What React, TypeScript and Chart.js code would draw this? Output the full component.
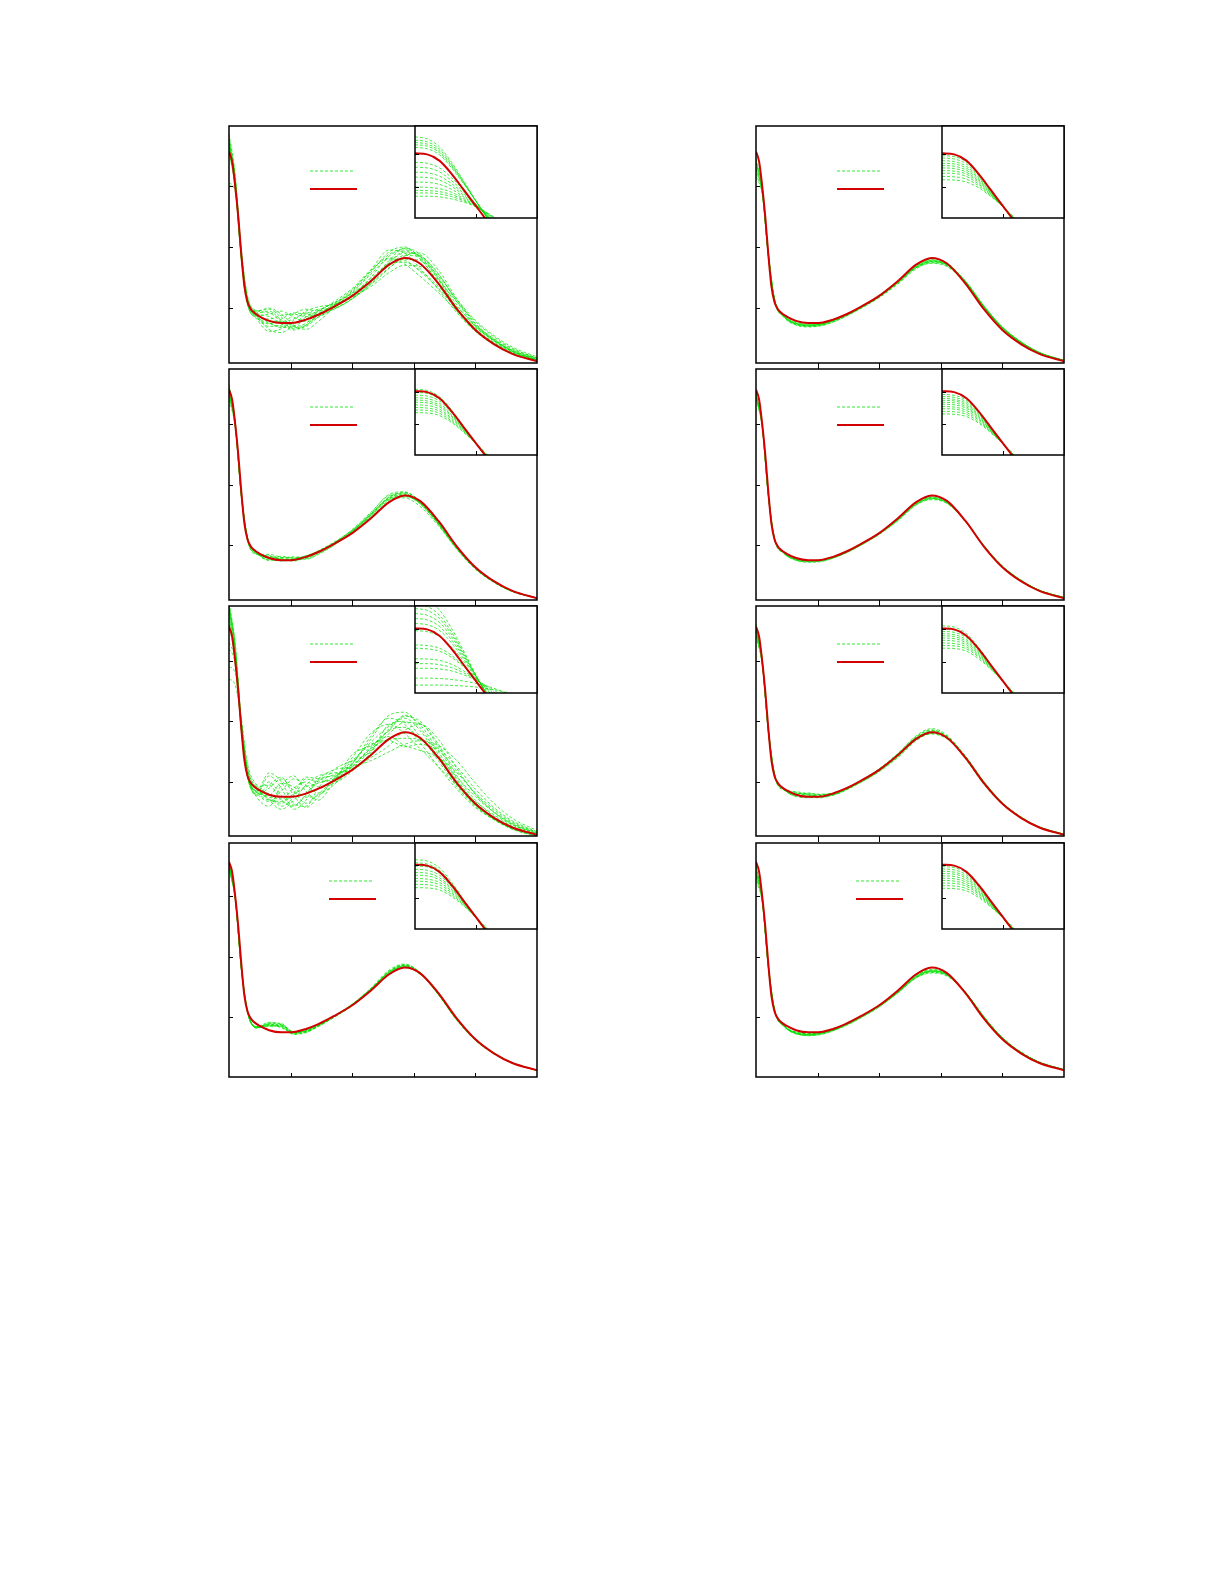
import React, { useEffect, useRef } from "react";
import { Chart, registerables } from "chart.js";
Chart.register(...registerables);

// ---------- DATA ----------
const X_MAIN = [0, 0.1, 0.2, 0.3, 0.45, 0.65, 0.85, 1.05, 1.25, 1.45, 1.7, 2.0, 2.3, 2.6, 2.85, 3.1, 3.4, 3.7, 4.0, 4.3, 4.6, 5.0];
const X_RED_MAIN = [0, 0.05, 0.1, 0.15, 0.2, 0.25, 0.3, 0.35, 0.4, 0.5, 0.65, 0.85, 1.05, 1.25, 1.45, 1.7, 2.0, 2.3, 2.6, 2.85, 3.1, 3.4, 3.7, 4.0, 4.3, 4.6, 5.0];
const X_INSET = [0, 0.2, 0.4, 0.6, 0.8, 1.0, 1.2, 1.5, 2.0];
const MAIN_Y_TICKS = [1, 2, 3];
const MAIN_X_TICKS = [1, 2, 3, 4];
const INSET_Y_TICKS = [1, 2];
const INSET_X_TICKS = [1];

const RED_MAIN = [3.56, 3.4, 3.0, 2.5, 1.88, 1.36, 1.1, 0.99, 0.93, 0.86, 0.79, 0.755, 0.76, 0.81, 0.89, 1.02, 1.2, 1.44, 1.71, 1.82, 1.73, 1.4, 0.98, 0.64, 0.41, 0.25, 0.13];
const RED_INSET = [2.02, 1.99, 1.8, 1.4, 0.91, 0.42, -0.07, -0.8, -2.0];

// row 1, left
const GREEN_11 = [
  [3.8, 3.15, 1.9, 1.12, 0.92, 0.95, 0.8, 0.68, 0.72, 0.9, 1.05, 1.2, 1.5, 1.85, 1.95, 1.8, 1.42, 0.98, 0.66, 0.44, 0.28, 0.15],
  [3.7, 3.05, 1.85, 1.15, 0.85, 0.7, 0.72, 0.9, 0.98, 0.95, 1.02, 1.18, 1.42, 1.78, 1.98, 1.88, 1.5, 1.05, 0.7, 0.46, 0.29, 0.15],
  [3.6, 3.0, 1.82, 1.1, 0.95, 0.98, 0.85, 0.7, 0.75, 0.95, 1.08, 1.25, 1.55, 1.8, 1.78, 1.6, 1.32, 0.98, 0.7, 0.48, 0.31, 0.17],
  [3.0, 2.95, 1.95, 1.2, 0.9, 0.65, 0.6, 0.72, 0.9, 0.98, 1.0, 1.15, 1.38, 1.65, 1.85, 1.9, 1.62, 1.15, 0.74, 0.47, 0.29, 0.15],
  [3.75, 3.1, 1.78, 1.05, 0.88, 0.9, 0.95, 0.85, 0.78, 0.85, 1.0, 1.22, 1.48, 1.72, 1.75, 1.62, 1.35, 1.02, 0.72, 0.5, 0.33, 0.18],
  [3.65, 3.05, 1.88, 1.08, 0.82, 0.62, 0.66, 0.8, 0.92, 0.92, 0.98, 1.15, 1.4, 1.75, 1.92, 1.85, 1.48, 1.0, 0.65, 0.42, 0.26, 0.14],
  [3.85, 3.2, 1.92, 1.15, 0.95, 1.0, 0.9, 0.72, 0.65, 0.78, 1.0, 1.26, 1.58, 1.92, 2.0, 1.82, 1.4, 0.95, 0.62, 0.4, 0.25, 0.13],
  [3.55, 2.98, 1.8, 1.12, 0.9, 0.8, 0.78, 0.82, 0.95, 1.02, 1.06, 1.18, 1.35, 1.58, 1.7, 1.68, 1.45, 1.1, 0.78, 0.53, 0.34, 0.18],
  [3.72, 3.08, 1.86, 1.1, 0.86, 0.75, 0.7, 0.75, 0.85, 0.96, 1.08, 1.24, 1.45, 1.7, 1.86, 1.84, 1.55, 1.12, 0.75, 0.49, 0.3, 0.16],
  [3.05, 2.92, 1.9, 1.18, 0.96, 0.92, 0.78, 0.66, 0.7, 0.85, 1.04, 1.28, 1.62, 1.95, 1.9, 1.65, 1.3, 0.92, 0.62, 0.42, 0.27, 0.14],
  [3.78, 3.12, 1.84, 1.06, 0.84, 0.74, 0.82, 0.92, 0.9, 0.88, 0.98, 1.16, 1.4, 1.66, 1.8, 1.78, 1.52, 1.14, 0.8, 0.55, 0.36, 0.2],
  [3.62, 3.02, 1.84, 1.14, 0.92, 0.86, 0.74, 0.64, 0.72, 0.88, 1.06, 1.3, 1.6, 1.88, 1.97, 1.84, 1.46, 1.0, 0.66, 0.43, 0.27, 0.14],
  [3.68, 3.06, 1.87, 1.12, 0.9, 0.76, 0.68, 0.7, 0.82, 0.94, 1.1, 1.32, 1.62, 1.82, 1.72, 1.52, 1.25, 0.95, 0.68, 0.47, 0.31, 0.17],
  [3.58, 3.0, 1.83, 1.1, 0.87, 0.82, 0.88, 0.9, 0.86, 0.9, 1.02, 1.2, 1.44, 1.74, 1.9, 1.86, 1.56, 1.1, 0.72, 0.47, 0.29, 0.15],
];
const GREEN_11_INSET = [
  [2.52, 2.46, 2.22, 1.75, 1.18, 0.58, 0.0, -0.8, -2.0],
  [2.42, 2.37, 2.15, 1.7, 1.15, 0.57, 0.01, -0.8, -2.0],
  [2.35, 2.3, 2.09, 1.66, 1.13, 0.57, 0.03, -0.75, -1.9],
  [2.28, 2.24, 2.04, 1.62, 1.11, 0.57, 0.05, -0.7, -1.9],
  [2.2, 2.16, 1.98, 1.58, 1.09, 0.57, 0.06, -0.7, -1.8],
  [1.75, 1.72, 1.58, 1.28, 0.9, 0.48, 0.06, -0.6, -1.6],
  [1.6, 1.58, 1.46, 1.19, 0.85, 0.47, 0.08, -0.55, -1.5],
  [1.45, 1.43, 1.33, 1.1, 0.8, 0.46, 0.1, -0.5, -1.4],
  [1.3, 1.29, 1.21, 1.02, 0.75, 0.45, 0.12, -0.45, -1.3],
  [1.15, 1.14, 1.08, 0.93, 0.7, 0.44, 0.14, -0.38, -1.2],
  [1.0, 0.99, 0.95, 0.84, 0.65, 0.43, 0.16, -0.3, -1.1],
  [0.9, 0.89, 0.86, 0.77, 0.61, 0.42, 0.18, -0.25, -1.0],
  [0.82, 0.82, 0.79, 0.71, 0.58, 0.41, 0.19, -0.2, -0.9],
  [0.72, 0.72, 0.7, 0.64, 0.54, 0.4, 0.2, -0.15, -0.8],
];

// row 1, right
const GREEN_12 = [
  [3.4, 2.95, 1.85, 1.12, 0.86, 0.74, 0.72, 0.74, 0.8, 0.88, 1.01, 1.19, 1.42, 1.68, 1.78, 1.72, 1.42, 1.01, 0.67, 0.43, 0.26, 0.14],
  [3.3, 2.92, 1.88, 1.14, 0.87, 0.73, 0.7, 0.72, 0.78, 0.87, 1.0, 1.18, 1.4, 1.66, 1.76, 1.71, 1.43, 1.02, 0.68, 0.44, 0.27, 0.14],
  [3.2, 2.88, 1.9, 1.15, 0.88, 0.75, 0.71, 0.73, 0.79, 0.88, 1.02, 1.2, 1.43, 1.68, 1.77, 1.7, 1.41, 1.01, 0.67, 0.43, 0.26, 0.14],
  [3.45, 2.97, 1.84, 1.11, 0.86, 0.76, 0.74, 0.75, 0.8, 0.89, 1.02, 1.21, 1.44, 1.7, 1.79, 1.73, 1.44, 1.03, 0.68, 0.44, 0.27, 0.14],
  [3.35, 2.94, 1.86, 1.13, 0.85, 0.72, 0.69, 0.71, 0.77, 0.86, 0.99, 1.17, 1.39, 1.64, 1.74, 1.69, 1.42, 1.02, 0.68, 0.44, 0.27, 0.14],
  [3.25, 2.9, 1.89, 1.16, 0.89, 0.77, 0.73, 0.74, 0.79, 0.87, 1.0, 1.18, 1.41, 1.67, 1.77, 1.72, 1.44, 1.03, 0.69, 0.45, 0.27, 0.14],
  [3.42, 2.96, 1.85, 1.12, 0.87, 0.75, 0.72, 0.73, 0.79, 0.88, 1.01, 1.19, 1.42, 1.69, 1.8, 1.74, 1.43, 1.02, 0.67, 0.43, 0.26, 0.14],
  [3.15, 2.86, 1.92, 1.17, 0.88, 0.74, 0.7, 0.71, 0.77, 0.86, 1.0, 1.19, 1.42, 1.66, 1.73, 1.68, 1.41, 1.02, 0.68, 0.44, 0.27, 0.14],
  [3.38, 2.93, 1.86, 1.13, 0.86, 0.73, 0.71, 0.73, 0.8, 0.89, 1.02, 1.2, 1.43, 1.67, 1.76, 1.7, 1.42, 1.02, 0.68, 0.44, 0.27, 0.14],
  [3.28, 2.91, 1.87, 1.14, 0.87, 0.74, 0.72, 0.74, 0.8, 0.88, 1.01, 1.19, 1.41, 1.66, 1.75, 1.71, 1.44, 1.04, 0.69, 0.45, 0.27, 0.14],
];
const GREEN_12_INSET = [
  [1.95, 1.92, 1.76, 1.38, 0.9, 0.4, -0.08, -0.8, -2.0],
  [1.88, 1.85, 1.7, 1.34, 0.88, 0.4, -0.07, -0.8, -2.0],
  [1.8, 1.77, 1.63, 1.3, 0.86, 0.4, -0.05, -0.75, -1.9],
  [1.72, 1.7, 1.57, 1.26, 0.84, 0.4, -0.04, -0.75, -1.9],
  [1.65, 1.63, 1.51, 1.22, 0.82, 0.4, -0.03, -0.7, -1.8],
  [1.58, 1.56, 1.45, 1.18, 0.8, 0.4, -0.02, -0.7, -1.8],
  [1.5, 1.48, 1.39, 1.14, 0.78, 0.4, 0.0, -0.65, -1.7],
  [1.42, 1.41, 1.32, 1.09, 0.76, 0.4, 0.01, -0.62, -1.7],
  [1.32, 1.31, 1.24, 1.04, 0.74, 0.4, 0.03, -0.6, -1.6],
  [1.22, 1.21, 1.15, 0.98, 0.71, 0.4, 0.05, -0.55, -1.5],
];

// row 2, left
const GREEN_21 = [
  [3.6, 3.02, 1.82, 1.1, 0.86, 0.82, 0.78, 0.74, 0.8, 0.9, 1.04, 1.24, 1.5, 1.78, 1.84, 1.7, 1.36, 0.95, 0.62, 0.4, 0.24, 0.13],
  [3.5, 2.98, 1.84, 1.12, 0.88, 0.76, 0.8, 0.8, 0.78, 0.86, 1.0, 1.22, 1.48, 1.76, 1.82, 1.68, 1.35, 0.95, 0.62, 0.4, 0.25, 0.13],
  [3.65, 3.05, 1.8, 1.08, 0.85, 0.85, 0.8, 0.76, 0.79, 0.88, 1.03, 1.26, 1.54, 1.82, 1.85, 1.69, 1.34, 0.93, 0.61, 0.39, 0.24, 0.13],
  [3.45, 2.96, 1.85, 1.13, 0.89, 0.78, 0.74, 0.77, 0.83, 0.9, 1.02, 1.2, 1.45, 1.72, 1.8, 1.7, 1.38, 0.97, 0.64, 0.41, 0.25, 0.13],
  [3.55, 3.0, 1.83, 1.11, 0.87, 0.8, 0.82, 0.78, 0.77, 0.85, 1.0, 1.23, 1.5, 1.8, 1.86, 1.72, 1.37, 0.96, 0.63, 0.4, 0.25, 0.13],
  [3.4, 2.95, 1.86, 1.14, 0.88, 0.75, 0.76, 0.79, 0.82, 0.89, 1.03, 1.24, 1.52, 1.76, 1.78, 1.64, 1.32, 0.94, 0.62, 0.4, 0.25, 0.13],
  [3.62, 3.03, 1.81, 1.09, 0.86, 0.83, 0.76, 0.75, 0.81, 0.91, 1.05, 1.25, 1.52, 1.84, 1.88, 1.71, 1.35, 0.94, 0.61, 0.39, 0.24, 0.13],
  [3.48, 2.97, 1.84, 1.12, 0.87, 0.77, 0.79, 0.81, 0.8, 0.87, 1.01, 1.21, 1.47, 1.74, 1.81, 1.69, 1.36, 0.96, 0.63, 0.41, 0.25, 0.13],
  [3.58, 3.01, 1.82, 1.1, 0.86, 0.81, 0.77, 0.77, 0.82, 0.9, 1.02, 1.22, 1.49, 1.79, 1.87, 1.73, 1.38, 0.96, 0.62, 0.4, 0.24, 0.13],
  [3.52, 2.99, 1.83, 1.11, 0.88, 0.79, 0.75, 0.76, 0.81, 0.89, 1.03, 1.23, 1.51, 1.77, 1.83, 1.7, 1.37, 0.95, 0.62, 0.4, 0.25, 0.13],
];
const GREEN_21_INSET = [
  [2.08, 2.04, 1.85, 1.44, 0.93, 0.41, -0.09, -0.85, -2.1],
  [1.98, 1.95, 1.78, 1.4, 0.91, 0.41, -0.08, -0.8, -2.0],
  [1.9, 1.87, 1.72, 1.36, 0.89, 0.41, -0.07, -0.8, -2.0],
  [1.82, 1.79, 1.65, 1.31, 0.87, 0.41, -0.05, -0.75, -1.9],
  [1.75, 1.72, 1.59, 1.27, 0.85, 0.41, -0.04, -0.75, -1.9],
  [1.68, 1.66, 1.54, 1.24, 0.84, 0.41, -0.03, -0.7, -1.8],
  [1.6, 1.58, 1.47, 1.19, 0.82, 0.41, -0.01, -0.68, -1.8],
  [1.52, 1.5, 1.41, 1.15, 0.8, 0.41, 0.0, -0.65, -1.7],
  [1.44, 1.43, 1.34, 1.1, 0.77, 0.41, 0.02, -0.62, -1.7],
  [1.36, 1.35, 1.27, 1.06, 0.75, 0.41, 0.04, -0.6, -1.6],
];

// row 2, right
const GREEN_22 = [
  [3.5, 2.98, 1.82, 1.11, 0.88, 0.77, 0.74, 0.75, 0.8, 0.88, 1.01, 1.19, 1.42, 1.68, 1.78, 1.71, 1.4, 0.99, 0.65, 0.42, 0.26, 0.14],
  [3.45, 2.96, 1.83, 1.12, 0.88, 0.76, 0.73, 0.74, 0.79, 0.87, 1.0, 1.18, 1.41, 1.67, 1.77, 1.7, 1.4, 0.99, 0.65, 0.42, 0.26, 0.14],
  [3.52, 2.99, 1.81, 1.1, 0.87, 0.77, 0.75, 0.76, 0.81, 0.89, 1.02, 1.2, 1.43, 1.69, 1.79, 1.72, 1.41, 0.99, 0.65, 0.42, 0.25, 0.13],
  [3.4, 2.95, 1.84, 1.12, 0.87, 0.75, 0.72, 0.73, 0.79, 0.87, 1.0, 1.19, 1.42, 1.68, 1.76, 1.69, 1.39, 0.99, 0.66, 0.43, 0.26, 0.14],
  [3.48, 2.97, 1.82, 1.11, 0.88, 0.78, 0.75, 0.75, 0.8, 0.88, 1.01, 1.19, 1.42, 1.7, 1.8, 1.72, 1.4, 0.98, 0.65, 0.42, 0.26, 0.14],
  [3.43, 2.96, 1.83, 1.11, 0.87, 0.76, 0.74, 0.75, 0.8, 0.88, 1.01, 1.18, 1.4, 1.66, 1.75, 1.69, 1.4, 1.0, 0.66, 0.43, 0.26, 0.14],
  [3.5, 2.98, 1.82, 1.1, 0.87, 0.77, 0.74, 0.75, 0.81, 0.89, 1.02, 1.2, 1.43, 1.69, 1.78, 1.71, 1.4, 0.99, 0.65, 0.42, 0.26, 0.14],
  [3.46, 2.97, 1.83, 1.12, 0.88, 0.76, 0.73, 0.74, 0.79, 0.87, 1.0, 1.19, 1.41, 1.67, 1.77, 1.7, 1.4, 0.99, 0.65, 0.42, 0.26, 0.14],
];
const GREEN_22_INSET = [
  [1.92, 1.89, 1.74, 1.37, 0.89, 0.4, -0.08, -0.8, -2.0],
  [1.86, 1.83, 1.69, 1.34, 0.88, 0.4, -0.07, -0.8, -2.0],
  [1.8, 1.77, 1.64, 1.31, 0.86, 0.4, -0.06, -0.78, -1.95],
  [1.74, 1.72, 1.59, 1.28, 0.85, 0.4, -0.05, -0.75, -1.9],
  [1.68, 1.66, 1.54, 1.24, 0.83, 0.4, -0.04, -0.72, -1.85],
  [1.62, 1.6, 1.49, 1.21, 0.82, 0.4, -0.03, -0.7, -1.8],
  [1.55, 1.53, 1.43, 1.17, 0.8, 0.4, -0.01, -0.68, -1.75],
  [1.48, 1.47, 1.37, 1.13, 0.78, 0.4, 0.0, -0.65, -1.7],
  [1.4, 1.39, 1.31, 1.08, 0.76, 0.4, 0.02, -0.62, -1.65],
  [1.32, 1.31, 1.24, 1.04, 0.74, 0.4, 0.04, -0.6, -1.6],
];

// row 3, left
const GREEN_31 = [
  [3.95, 3.2, 1.95, 1.15, 0.8, 1.1, 0.9, 0.55, 0.7, 1.05, 1.1, 1.3, 1.75, 2.05, 1.95, 1.65, 1.25, 0.88, 0.58, 0.38, 0.22, 0.1],
  [3.8, 3.1, 1.9, 1.1, 0.75, 0.6, 0.95, 1.1, 0.85, 0.7, 1.0, 1.45, 1.6, 1.85, 2.1, 1.95, 1.5, 1.02, 0.66, 0.42, 0.26, 0.13],
  [2.7, 2.6, 2.05, 1.3, 0.95, 0.8, 0.6, 0.75, 1.05, 1.0, 1.05, 1.25, 1.55, 1.7, 1.72, 1.7, 1.55, 1.25, 0.88, 0.58, 0.36, 0.18],
  [3.9, 3.25, 1.98, 1.12, 0.85, 1.15, 1.0, 0.65, 0.6, 0.9, 1.2, 1.35, 1.5, 1.95, 2.0, 1.75, 1.35, 0.92, 0.6, 0.38, 0.23, 0.11],
  [3.3, 3.0, 1.92, 1.2, 0.9, 0.7, 0.55, 0.7, 0.95, 1.1, 1.15, 1.2, 1.4, 1.6, 1.85, 1.95, 1.7, 1.22, 0.8, 0.5, 0.3, 0.15],
  [3.7, 3.05, 1.85, 1.08, 0.78, 0.9, 1.05, 0.85, 0.65, 0.8, 1.05, 1.4, 1.8, 1.95, 1.8, 1.55, 1.25, 0.95, 0.68, 0.46, 0.29, 0.15],
  [3.95, 3.3, 2.0, 1.18, 0.88, 0.75, 0.72, 0.9, 1.0, 0.92, 0.98, 1.22, 1.52, 1.8, 1.98, 1.96, 1.62, 1.1, 0.7, 0.44, 0.27, 0.13],
  [2.9, 2.8, 2.0, 1.25, 0.92, 0.95, 0.7, 0.6, 0.8, 1.05, 1.2, 1.25, 1.35, 1.5, 1.62, 1.68, 1.6, 1.35, 0.98, 0.65, 0.4, 0.2],
  [3.85, 3.15, 1.9, 1.1, 0.82, 0.68, 0.85, 1.05, 0.95, 0.82, 0.95, 1.3, 1.7, 2.1, 2.15, 1.9, 1.45, 0.98, 0.62, 0.39, 0.23, 0.11],
  [3.6, 3.02, 1.86, 1.12, 0.85, 1.0, 0.78, 0.62, 0.78, 1.02, 1.12, 1.25, 1.58, 1.75, 1.6, 1.52, 1.4, 1.15, 0.82, 0.55, 0.34, 0.17],
  [3.92, 3.22, 1.96, 1.14, 0.83, 0.78, 0.98, 0.92, 0.75, 0.78, 1.05, 1.35, 1.65, 1.92, 2.05, 1.85, 1.4, 0.95, 0.62, 0.4, 0.25, 0.12],
  [3.2, 2.95, 1.94, 1.22, 0.92, 0.72, 0.65, 0.82, 1.08, 1.05, 1.0, 1.18, 1.48, 1.85, 1.9, 1.72, 1.42, 1.08, 0.76, 0.5, 0.31, 0.16],
  [3.75, 3.08, 1.88, 1.1, 0.8, 0.95, 1.08, 0.78, 0.58, 0.75, 1.02, 1.32, 1.62, 1.68, 1.58, 1.62, 1.52, 1.18, 0.8, 0.52, 0.32, 0.16],
  [3.88, 3.18, 1.92, 1.12, 0.84, 0.7, 0.68, 0.8, 0.92, 0.98, 1.08, 1.28, 1.55, 1.88, 2.08, 2.0, 1.58, 1.05, 0.66, 0.41, 0.25, 0.12],
];
const GREEN_31_INSET = [
  [2.95, 2.88, 2.58, 2.02, 1.33, 0.6, -0.08, -1.0, -2.4],
  [2.75, 2.69, 2.42, 1.91, 1.27, 0.59, -0.06, -0.95, -2.3],
  [2.62, 2.57, 2.32, 1.84, 1.23, 0.58, -0.05, -0.9, -2.2],
  [2.47, 2.42, 2.2, 1.76, 1.19, 0.57, -0.03, -0.88, -2.1],
  [2.32, 2.28, 2.08, 1.67, 1.14, 0.56, -0.02, -0.85, -2.0],
  [2.17, 2.13, 1.96, 1.58, 1.09, 0.55, 0.0, -0.8, -2.0],
  [1.95, 1.92, 1.78, 1.45, 1.02, 0.53, 0.04, -0.7, -1.8],
  [1.52, 1.5, 1.42, 1.2, 0.88, 0.51, 0.12, -0.5, -1.5],
  [1.42, 1.4, 1.33, 1.14, 0.85, 0.5, 0.14, -0.45, -1.4],
  [1.1, 1.09, 1.05, 0.93, 0.73, 0.47, 0.18, -0.3, -1.1],
  [0.95, 0.95, 0.92, 0.83, 0.67, 0.46, 0.21, -0.2, -0.9],
  [0.81, 0.81, 0.79, 0.73, 0.61, 0.45, 0.25, -0.1, -0.7],
  [0.51, 0.51, 0.5, 0.47, 0.42, 0.35, 0.26, 0.05, -0.4],
  [0.3, 0.3, 0.3, 0.29, 0.27, 0.24, 0.19, 0.08, -0.2],
];

// row 3, right
const GREEN_32 = [
  [3.55, 3.0, 1.85, 1.12, 0.9, 0.82, 0.78, 0.76, 0.8, 0.88, 1.01, 1.2, 1.44, 1.72, 1.82, 1.73, 1.4, 0.98, 0.64, 0.41, 0.25, 0.13],
  [3.45, 2.96, 1.87, 1.14, 0.88, 0.78, 0.8, 0.8, 0.81, 0.87, 0.99, 1.18, 1.42, 1.7, 1.84, 1.76, 1.42, 0.99, 0.65, 0.42, 0.26, 0.13],
  [3.6, 3.03, 1.83, 1.1, 0.87, 0.84, 0.8, 0.75, 0.78, 0.87, 1.02, 1.22, 1.47, 1.75, 1.86, 1.74, 1.38, 0.96, 0.63, 0.41, 0.25, 0.13],
  [3.4, 2.94, 1.88, 1.15, 0.89, 0.76, 0.74, 0.77, 0.82, 0.89, 1.0, 1.17, 1.4, 1.68, 1.8, 1.74, 1.43, 1.01, 0.66, 0.43, 0.26, 0.14],
  [3.52, 2.99, 1.85, 1.12, 0.88, 0.8, 0.82, 0.79, 0.79, 0.86, 1.0, 1.2, 1.45, 1.74, 1.85, 1.75, 1.4, 0.97, 0.64, 0.41, 0.25, 0.13],
  [3.48, 2.97, 1.86, 1.13, 0.89, 0.79, 0.76, 0.76, 0.8, 0.88, 1.01, 1.19, 1.43, 1.7, 1.79, 1.71, 1.41, 1.0, 0.66, 0.42, 0.26, 0.14],
  [3.58, 3.02, 1.84, 1.11, 0.87, 0.83, 0.79, 0.77, 0.8, 0.88, 1.02, 1.21, 1.46, 1.76, 1.88, 1.77, 1.41, 0.98, 0.64, 0.41, 0.25, 0.13],
  [3.42, 2.95, 1.87, 1.14, 0.89, 0.77, 0.77, 0.79, 0.82, 0.88, 1.0, 1.18, 1.41, 1.69, 1.81, 1.74, 1.42, 1.0, 0.65, 0.42, 0.26, 0.14],
  [3.5, 2.98, 1.85, 1.12, 0.88, 0.81, 0.81, 0.78, 0.79, 0.87, 1.01, 1.2, 1.44, 1.73, 1.83, 1.73, 1.39, 0.97, 0.64, 0.41, 0.25, 0.13],
  [3.55, 3.0, 1.84, 1.11, 0.88, 0.8, 0.75, 0.74, 0.79, 0.88, 1.02, 1.21, 1.45, 1.72, 1.81, 1.72, 1.4, 0.99, 0.65, 0.42, 0.25, 0.13],
];
const GREEN_32_INSET = [
  [2.1, 2.06, 1.86, 1.45, 0.93, 0.41, -0.09, -0.85, -2.1],
  [2.0, 1.97, 1.79, 1.4, 0.91, 0.41, -0.08, -0.82, -2.05],
  [1.93, 1.9, 1.74, 1.37, 0.9, 0.41, -0.07, -0.8, -2.0],
  [1.86, 1.83, 1.68, 1.33, 0.88, 0.41, -0.06, -0.78, -1.95],
  [1.8, 1.77, 1.63, 1.3, 0.87, 0.41, -0.05, -0.75, -1.9],
  [1.73, 1.71, 1.58, 1.27, 0.85, 0.41, -0.04, -0.72, -1.85],
  [1.66, 1.64, 1.52, 1.23, 0.84, 0.41, -0.03, -0.7, -1.8],
  [1.58, 1.56, 1.46, 1.19, 0.82, 0.41, -0.01, -0.68, -1.75],
  [1.5, 1.49, 1.4, 1.15, 0.8, 0.41, 0.01, -0.65, -1.7],
  [1.42, 1.41, 1.33, 1.1, 0.78, 0.41, 0.03, -0.62, -1.65],
];

// row 4, left
const GREEN_41 = [
  [3.55, 3.0, 1.8, 1.08, 0.84, 0.88, 0.86, 0.74, 0.78, 0.87, 1.01, 1.21, 1.46, 1.75, 1.85, 1.73, 1.38, 0.96, 0.63, 0.41, 0.25, 0.13],
  [3.5, 2.98, 1.82, 1.1, 0.82, 0.9, 0.89, 0.73, 0.76, 0.86, 1.0, 1.2, 1.46, 1.76, 1.87, 1.74, 1.38, 0.96, 0.63, 0.41, 0.25, 0.13],
  [3.45, 2.96, 1.83, 1.11, 0.83, 0.86, 0.84, 0.75, 0.79, 0.88, 1.02, 1.22, 1.47, 1.74, 1.83, 1.72, 1.39, 0.97, 0.64, 0.41, 0.25, 0.13],
  [3.52, 2.99, 1.81, 1.09, 0.85, 0.92, 0.88, 0.72, 0.75, 0.85, 1.0, 1.21, 1.48, 1.78, 1.88, 1.74, 1.37, 0.95, 0.62, 0.4, 0.25, 0.13],
  [3.48, 2.97, 1.82, 1.1, 0.83, 0.87, 0.87, 0.76, 0.77, 0.86, 1.01, 1.2, 1.45, 1.73, 1.84, 1.73, 1.39, 0.97, 0.64, 0.41, 0.25, 0.13],
  [3.56, 3.01, 1.8, 1.08, 0.84, 0.89, 0.85, 0.73, 0.77, 0.87, 1.02, 1.22, 1.47, 1.76, 1.86, 1.73, 1.38, 0.96, 0.63, 0.41, 0.25, 0.13],
  [3.42, 2.95, 1.84, 1.12, 0.84, 0.85, 0.86, 0.77, 0.78, 0.86, 1.0, 1.19, 1.44, 1.72, 1.82, 1.71, 1.39, 0.98, 0.64, 0.42, 0.26, 0.13],
  [3.53, 2.99, 1.81, 1.09, 0.83, 0.91, 0.9, 0.75, 0.76, 0.86, 1.01, 1.21, 1.46, 1.75, 1.85, 1.72, 1.37, 0.96, 0.63, 0.41, 0.25, 0.13],
  [3.47, 2.97, 1.82, 1.1, 0.85, 0.88, 0.83, 0.74, 0.79, 0.88, 1.02, 1.21, 1.46, 1.74, 1.84, 1.73, 1.39, 0.97, 0.63, 0.41, 0.25, 0.13],
  [3.5, 2.98, 1.82, 1.1, 0.84, 0.87, 0.88, 0.76, 0.77, 0.86, 1.01, 1.2, 1.45, 1.75, 1.86, 1.74, 1.38, 0.96, 0.63, 0.41, 0.25, 0.13],
];
const GREEN_41_INSET = [
  [2.17, 2.13, 1.92, 1.49, 0.95, 0.41, -0.1, -0.9, -2.2],
  [2.08, 2.04, 1.85, 1.44, 0.93, 0.41, -0.09, -0.85, -2.1],
  [1.98, 1.95, 1.78, 1.4, 0.91, 0.41, -0.08, -0.82, -2.05],
  [1.88, 1.85, 1.7, 1.35, 0.89, 0.41, -0.07, -0.8, -2.0],
  [1.78, 1.76, 1.62, 1.3, 0.87, 0.41, -0.05, -0.75, -1.9],
  [1.7, 1.68, 1.56, 1.26, 0.85, 0.41, -0.04, -0.72, -1.85],
  [1.6, 1.58, 1.48, 1.21, 0.83, 0.41, -0.02, -0.7, -1.8],
  [1.52, 1.5, 1.41, 1.16, 0.81, 0.41, 0.0, -0.66, -1.75],
  [1.42, 1.41, 1.33, 1.11, 0.78, 0.41, 0.02, -0.62, -1.7],
  [1.32, 1.31, 1.25, 1.05, 0.76, 0.41, 0.04, -0.6, -1.6],
];

// row 4, right
const GREEN_42 = [
  [3.45, 2.96, 1.84, 1.12, 0.86, 0.74, 0.72, 0.74, 0.8, 0.88, 1.01, 1.19, 1.42, 1.68, 1.77, 1.71, 1.41, 1.0, 0.66, 0.42, 0.26, 0.14],
  [3.38, 2.94, 1.85, 1.13, 0.86, 0.73, 0.71, 0.73, 0.79, 0.87, 1.0, 1.18, 1.41, 1.66, 1.75, 1.7, 1.41, 1.01, 0.66, 0.43, 0.26, 0.14],
  [3.5, 2.98, 1.83, 1.11, 0.87, 0.76, 0.73, 0.75, 0.8, 0.88, 1.02, 1.2, 1.43, 1.69, 1.78, 1.72, 1.41, 1.0, 0.65, 0.42, 0.26, 0.14],
  [3.3, 2.92, 1.86, 1.14, 0.87, 0.74, 0.7, 0.72, 0.78, 0.87, 1.0, 1.18, 1.4, 1.65, 1.74, 1.69, 1.41, 1.01, 0.67, 0.43, 0.26, 0.14],
  [3.42, 2.95, 1.84, 1.12, 0.86, 0.75, 0.72, 0.74, 0.8, 0.88, 1.01, 1.19, 1.42, 1.67, 1.76, 1.7, 1.4, 1.0, 0.66, 0.42, 0.26, 0.14],
  [3.35, 2.93, 1.85, 1.13, 0.87, 0.73, 0.71, 0.74, 0.79, 0.87, 1.0, 1.19, 1.41, 1.67, 1.76, 1.71, 1.42, 1.01, 0.66, 0.43, 0.26, 0.14],
  [3.48, 2.97, 1.83, 1.11, 0.86, 0.76, 0.74, 0.75, 0.8, 0.89, 1.02, 1.2, 1.43, 1.7, 1.79, 1.72, 1.41, 1.0, 0.65, 0.42, 0.26, 0.14],
  [3.25, 2.9, 1.87, 1.15, 0.88, 0.74, 0.7, 0.72, 0.78, 0.86, 0.99, 1.17, 1.4, 1.65, 1.73, 1.68, 1.41, 1.01, 0.67, 0.43, 0.27, 0.14],
  [3.4, 2.95, 1.84, 1.12, 0.86, 0.74, 0.72, 0.74, 0.79, 0.88, 1.01, 1.19, 1.42, 1.68, 1.77, 1.71, 1.41, 1.0, 0.66, 0.42, 0.26, 0.14],
  [3.32, 2.93, 1.85, 1.13, 0.87, 0.75, 0.73, 0.74, 0.8, 0.88, 1.01, 1.19, 1.41, 1.66, 1.75, 1.7, 1.42, 1.01, 0.66, 0.43, 0.26, 0.14],
];
const GREEN_42_INSET = [
  [1.96, 1.93, 1.77, 1.39, 0.9, 0.4, -0.08, -0.8, -2.0],
  [1.89, 1.86, 1.71, 1.35, 0.88, 0.4, -0.07, -0.8, -2.0],
  [1.82, 1.79, 1.65, 1.31, 0.87, 0.4, -0.06, -0.78, -1.95],
  [1.75, 1.73, 1.6, 1.28, 0.85, 0.4, -0.05, -0.75, -1.9],
  [1.68, 1.66, 1.54, 1.24, 0.83, 0.4, -0.04, -0.72, -1.85],
  [1.61, 1.59, 1.48, 1.2, 0.81, 0.4, -0.02, -0.7, -1.8],
  [1.54, 1.52, 1.42, 1.16, 0.79, 0.4, -0.01, -0.67, -1.75],
  [1.46, 1.45, 1.36, 1.12, 0.77, 0.4, 0.01, -0.64, -1.7],
  [1.38, 1.37, 1.29, 1.07, 0.75, 0.4, 0.03, -0.6, -1.65],
  [1.3, 1.29, 1.22, 1.02, 0.73, 0.4, 0.05, -0.58, -1.6],
];

// ---------- LAYOUT (pixels / axis ranges) ----------
const COL_LEFT = [229, 756];
const MAIN_WIDTH = 308;
const INSET_OFFSET_X = 186;
const ROWS = [
  { top: 126, bottom: 363, yMin: 0.1, yMax: 3.98, insetBottom: 218, iMin: 0.06, iMax: 2.85, legX: 81, legY: 45, tickOut: true },
  { top: 369, bottom: 600, yMin: 0.1, yMax: 3.9, insetBottom: 455, iMin: 0.06, iMax: 2.7, legX: 81, legY: 38, tickOut: true },
  { top: 606, bottom: 836, yMin: 0.11, yMax: 3.9, insetBottom: 693, iMin: 0.06, iMax: 2.7, legX: 81, legY: 38, tickOut: true },
  { top: 843, bottom: 1077, yMin: 0.02, yMax: 3.87, insetBottom: 929, iMin: 0.06, iMax: 2.68, legX: 100, legY: 38, tickOut: false },
];
const PANELS = [
  [GREEN_11, GREEN_11_INSET, GREEN_12, GREEN_12_INSET],
  [GREEN_21, GREEN_21_INSET, GREEN_22, GREEN_22_INSET],
  [GREEN_31, GREEN_31_INSET, GREEN_32, GREEN_32_INSET],
  [GREEN_41, GREEN_41_INSET, GREEN_42, GREEN_42_INSET],
];

const GREEN = "rgba(0,225,0,0.8)";
const RED = "rgb(210,0,0)";
const PAD = 8;

const framePlugin = {
  id: "frame",
  beforeDraw(chart: any, _a: any, opts: any) {
    if (!opts.fillWhite) return;
    const { ctx, chartArea: a } = chart;
    ctx.save();
    ctx.fillStyle = "#fff";
    ctx.fillRect(a.left, a.top, a.right - a.left, a.bottom - a.top);
    ctx.restore();
  },
  afterDraw(chart: any, _a: any, opts: any) {
    const { ctx, chartArea: a, scales } = chart;
    ctx.save();
    ctx.setLineDash([]);
    ctx.strokeStyle = "#000";
    ctx.lineWidth = 1;
    const line = (x1: number, y1: number, x2: number, y2: number) => {
      ctx.beginPath();
      ctx.moveTo(x1, y1);
      ctx.lineTo(x2, y2);
      ctx.stroke();
    };
    for (const v of opts.yTicks) {
      const y = Math.round(scales.y.getPixelForValue(v)) + 0.5;
      line(a.left, y, a.left + 4, y);
    }
    for (const v of opts.xTicks) {
      const x = Math.round(scales.x.getPixelForValue(v)) + 0.5;
      if (opts.tickOut) line(x, a.bottom, x, a.bottom + 6);
      else line(x, a.bottom, x, a.bottom - 4);
    }
    ctx.lineWidth = 1.5;
    ctx.strokeRect(a.left, a.top, a.right - a.left, a.bottom - a.top);
    if (opts.legend) {
      const lx = a.left + opts.legend.x;
      const ly = a.top + opts.legend.y;
      ctx.strokeStyle = GREEN;
      ctx.lineWidth = 1;
      ctx.setLineDash([3, 2]);
      line(lx, ly, lx + 45, ly);
      ctx.setLineDash([]);
      ctx.strokeStyle = RED;
      ctx.lineWidth = 2;
      line(lx, ly + 18, lx + 47, ly + 18);
    }
    ctx.restore();
  },
};

function toPoints(xs: number[], ys: number[]) {
  return xs.map((x, i) => ({ x, y: ys[i] }));
}

type PlotProps = {
  left: number;
  top: number;
  width: number;
  height: number;
  xs: number[];
  redXs: number[];
  red: number[];
  greens: number[][];
  xMax: number;
  yMin: number;
  yMax: number;
  xTicks: number[];
  yTicks: number[];
  tickOut: boolean;
  fillWhite: boolean;
  legend?: { x: number; y: number };
};

function Plot(p: PlotProps) {
  const ref = useRef<HTMLCanvasElement>(null);
  useEffect(() => {
    const datasets: any[] = [
      {
        data: toPoints(p.redXs, p.red),
        borderColor: RED,
        borderWidth: 2,
        pointRadius: 0,
        cubicInterpolationMode: "monotone",
        clip: 0,
      },
      ...p.greens.map((g) => ({
        data: toPoints(p.xs, g),
        borderColor: GREEN,
        borderWidth: 0.9,
        borderDash: [3, 2],
        pointRadius: 0,
        cubicInterpolationMode: "monotone",
        clip: 0,
      })),
    ];
    const chart = new Chart(ref.current as HTMLCanvasElement, {
      type: "line",
      data: { datasets },
      options: {
        animation: false,
        responsive: false,
        maintainAspectRatio: false,
        devicePixelRatio: 1,
        layout: { padding: PAD },
        parsing: false as any,
        scales: {
          x: { type: "linear", min: 0, max: p.xMax, display: false },
          y: { type: "linear", min: p.yMin, max: p.yMax, display: false },
        },
        plugins: {
          legend: { display: false },
          tooltip: { enabled: false },
          frame: {
            yTicks: p.yTicks,
            xTicks: p.xTicks,
            tickOut: p.tickOut,
            fillWhite: p.fillWhite,
            legend: p.legend,
          },
        } as any,
      },
      plugins: [framePlugin as any],
    });
    return () => chart.destroy();
  }, []);
  return (
    <canvas
      ref={ref}
      width={p.width + 2 * PAD}
      height={p.height + 2 * PAD}
      style={{
        position: "absolute",
        left: p.left - PAD,
        top: p.top - PAD,
        width: p.width + 2 * PAD,
        height: p.height + 2 * PAD,
      }}
    />
  );
}

export default function App() {
  const items: React.ReactNode[] = [];
  ROWS.forEach((row, r) => {
    COL_LEFT.forEach((left, c) => {
      const greens = PANELS[r][c * 2];
      const insetGreens = PANELS[r][c * 2 + 1];
      items.push(
        <Plot
          key={`m${r}${c}`}
          left={left}
          top={row.top}
          width={MAIN_WIDTH}
          height={row.bottom - row.top}
          xs={X_MAIN}
          redXs={X_RED_MAIN}
          red={RED_MAIN}
          greens={greens}
          xMax={5}
          yMin={row.yMin}
          yMax={row.yMax}
          xTicks={MAIN_X_TICKS}
          yTicks={MAIN_Y_TICKS}
          tickOut={row.tickOut}
          fillWhite={false}
          legend={{ x: row.legX, y: row.legY }}
        />
      );
      items.push(
        <Plot
          key={`i${r}${c}`}
          left={left + INSET_OFFSET_X}
          top={row.top}
          width={MAIN_WIDTH - INSET_OFFSET_X}
          height={row.insetBottom - row.top}
          xs={X_INSET}
          redXs={X_INSET}
          red={RED_INSET}
          greens={insetGreens}
          xMax={2}
          yMin={row.iMin}
          yMax={row.iMax}
          xTicks={INSET_X_TICKS}
          yTicks={INSET_Y_TICKS}
          tickOut={false}
          fillWhite={true}
        />
      );
    });
  });
  return <div style={{ position: "absolute", left: 0, top: 0, width: 1225, height: 1585 }}>{items}</div>;
}
